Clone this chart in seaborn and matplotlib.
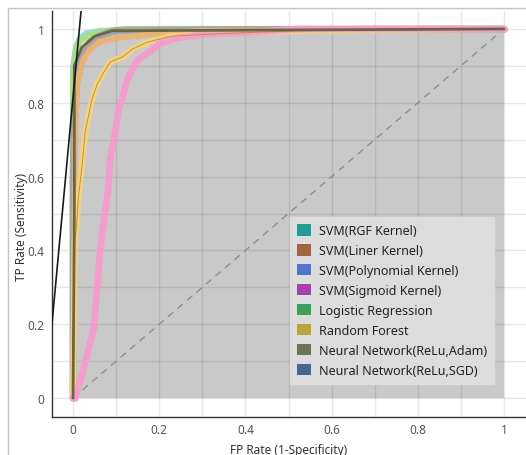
import matplotlib
matplotlib.use("Agg")
import matplotlib.pyplot as plt
from matplotlib.patches import Patch, Rectangle
import numpy as np
import pandas as pd
import seaborn as sns

# ---- data ----
legend_labels = ["SVM(RGF Kernel)", "SVM(Liner Kernel)", "SVM(Polynomial Kernel)",
                 "SVM(Sigmoid Kernel)", "Logistic Regression", "Random Forest",
                 "Neural Network(ReLu,Adam)", "Neural Network(ReLu,SGD)"]
legend_colors = ["#229A98", "#A2663E", "#5275CC", "#AA3FAE", "#3EA05C", "#B5A63E",
                 "#6F7352", "#47668E"]

sig_fpr = [0, 0.005, 0.02, 0.032, 0.049, 0.056, 0.063, 0.070, 0.081, 0.086, 0.097,
           0.107, 0.114, 0.128, 0.15, 0.18, 0.20, 0.24, 0.30, 0.40, 0.52, 1.0]
sig_tpr = [0, 0.0, 0.06, 0.114, 0.195, 0.30, 0.404, 0.466, 0.558, 0.648, 0.715,
           0.79, 0.81, 0.87, 0.917, 0.94, 0.96, 0.975, 0.985, 0.99, 1.0, 1.0]

rf_fpr = [0, 0.002, 0.004, 0.009, 0.012, 0.021, 0.028, 0.044, 0.056, 0.07, 0.086,
          0.116, 0.137, 0.17, 0.225, 0.3, 0.4, 0.52, 1.0]
rf_tpr = [0, 0.2, 0.42, 0.48, 0.54, 0.63, 0.72, 0.81, 0.85, 0.88, 0.91,
          0.925, 0.945, 0.963, 0.98, 0.985, 0.99, 0.995, 1.0]

lin_fpr = [0, 0.002, 0.005, 0.009, 0.015, 0.025, 0.04, 0.06, 0.1, 0.15, 0.22, 0.3, 1.0]
lin_tpr = [0, 0.3, 0.7, 0.84, 0.88, 0.92, 0.945, 0.965, 0.975, 0.982, 0.99, 0.995, 1.0]

sgd_fpr = [0, 0.0, 0.003, 0.008, 0.015, 0.025, 0.04, 0.06, 0.08, 0.1, 0.2, 0.4, 1.0]
sgd_tpr = [0, 0.6, 0.75, 0.85, 0.9, 0.94, 0.965, 0.98, 0.99, 0.995, 0.997, 0.998, 1.0]

lr_fpr = [0, 0.0, 0.005, 0.012, 0.025, 0.045, 0.08, 0.12, 0.35, 1.0]
lr_tpr = [0, 0.88, 0.93, 0.96, 0.975, 0.988, 0.995, 1.0, 1.0, 1.0]

rgf_fpr = [0, 0.0, 0.006, 0.015, 0.03, 0.06, 0.23, 1.0]
rgf_tpr = [0, 0.9, 0.95, 0.975, 0.988, 0.995, 1.0, 1.0]

adam_fpr = [0, 0.003, 0.003, 0.02, 0.05, 0.09, 1.0]
adam_tpr = [0, 0.5, 0.9, 0.95, 0.98, 0.995, 1.0]

hull_fpr = [0, 0, 0.003, 0.02, 0.05, 0.1, 1, 1]
hull_tpr = [0, 0.85, 0.9, 0.94, 0.975, 1.0, 1.0, 0]

iso_x = [-0.049, 0.0186]
iso_y = [0.2, 1.049]

ticks = [0, 0.2, 0.4, 0.6, 0.8, 1.0]
tick_labels = ["0", "0.2", "0.4", "0.6", "0.8", "1"]

# ---- figure ----
sns.set_theme(style="white")
plt.rcParams["font.family"] = ["Noto Sans", "DejaVu Sans"]

fig = plt.figure(figsize=(5.26, 4.56), dpi=100)
ax = fig.add_axes([51.5 / 526, 38.5 / 456, 474 / 526, 406 / 456])
ax.set_facecolor("white")
ax.set_xlim(-0.05, 1.05)
ax.set_ylim(-0.05, 1.05)

# figure frame
fig.patches.append(Rectangle((8 / 526, -0.1), 2, (456 - 9) / 456 + 0.1,
                             transform=fig.transFigure, fill=False,
                             edgecolor="#C4C4C4", lw=1.0, zorder=0))

# hull fill
ax.fill(hull_fpr, hull_tpr, color="#C9C9C9", lw=0, zorder=0.5)

# grid
grid = np.round(np.arange(0, 1.01, 0.1), 2)
for g in grid:
    ax.axvline(g, color="black", alpha=0.09, lw=1.0, zorder=1)
    ax.axhline(g, color="black", alpha=0.09, lw=1.0, zorder=1)

# diagonal
ax.plot([0, 1], [0, 1], ls=(0, (5, 4)), color="#8E8E8E", lw=1.0, zorder=2)

curves = [
    (rgf_fpr, rgf_tpr, "#8EDBE0", 4.0),
    (lr_fpr, lr_tpr, "#A8DC86", 4.5),
    (sgd_fpr, sgd_tpr, "#A3A3A3", 5.0),
    (lin_fpr, lin_tpr, "#EDB272", 4.0),
    (rf_fpr, rf_tpr, "#F6D27E", 4.5),
    (sig_fpr, sig_tpr, "#F59BCB", 4.8),
]
for fx, fy, col, w in curves:
    df = pd.DataFrame({"fpr": fx, "tpr": fy})
    sns.lineplot(data=df, x="fpr", y="tpr", sort=False, estimator=None, ax=ax,
                 color=col, lw=w, alpha=0.92, marker="o", markersize=4.5,
                 markeredgewidth=0, zorder=3)

# thin inner line of random forest
sns.lineplot(x=rf_fpr, y=rf_tpr, sort=False, estimator=None, ax=ax,
             color="#B59A3A", lw=0.7, zorder=4)

# dark line (NN Adam)
sns.lineplot(x=adam_fpr, y=adam_tpr, sort=False, estimator=None, ax=ax,
             color="#6B6548", lw=2.0, zorder=5)

# iso-performance line
ax.axline((iso_x[0], iso_y[0]), (iso_x[1], iso_y[1]), color="#1A1A1A", lw=1.2, zorder=6)

ax.set_xticks(ticks)
ax.set_xticklabels(tick_labels)
ax.set_yticks(ticks)
ax.set_yticklabels(tick_labels)
ax.tick_params(axis="both", length=0, labelsize=8.5, labelcolor="#555555", pad=5)
ax.set_xlabel("FP Rate (1-Specificity)", fontsize=8.5, color="#333333", labelpad=5)
ax.set_ylabel("TP Rate (Sensitivity)", fontsize=8.5, color="#333333", labelpad=1)
ax.yaxis.set_label_coords(-0.05, 0.47)

for s in ["top", "right"]:
    ax.spines[s].set_visible(False)
for s in ["left", "bottom"]:
    ax.spines[s].set_color("#333333")
    ax.spines[s].set_linewidth(1.0)

handles = [Patch(facecolor=c, edgecolor="none") for c in legend_colors]
leg = ax.legend(handles, legend_labels, loc="upper left", bbox_to_anchor=(0.503, 0.491),
                borderaxespad=0, fontsize=9, frameon=True, fancybox=False,
                facecolor="#DCDCDC", edgecolor="#DCDCDC", framealpha=1,
                handlelength=1.15, handleheight=1.05, handletextpad=0.65,
                labelspacing=0.55, borderpad=0.55)
for t in leg.get_texts():
    t.set_color("#222222")
leg.set_zorder(7)

fig.savefig("out.png", dpi=100)
